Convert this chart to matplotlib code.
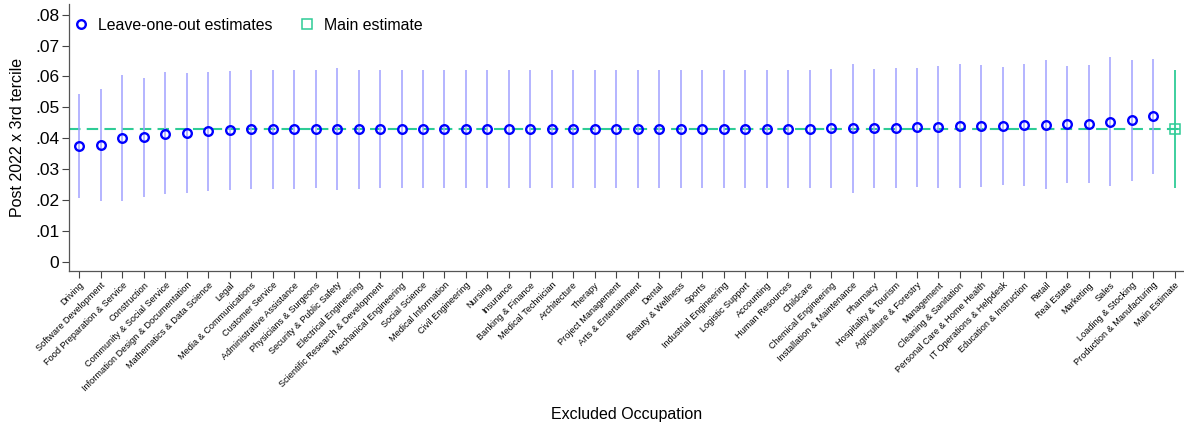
#!/usr/bin/env python3
"""
Leave-one-out robustness chart: coefficient on Post 2022 x 3rd tercile
when each occupation is dropped in turn.
"""
import matplotlib
matplotlib.use('Agg')
import matplotlib.pyplot as plt
from matplotlib.ticker import FuncFormatter

plt.rcParams['font.family'] = ['Liberation Sans', 'DejaVu Sans']

# ── Data ────────────────────────────────────────────────────────────────────
occupations = [
    'Driving', 'Software Development', 'Food Preparation & Service', 'Construction',
    'Community & Social Service', 'Information Design & Documentation',
    'Mathematics & Data Science', 'Legal', 'Media & Communications',
    'Customer Service', 'Administrative Assistance', 'Physicians & Surgeons',
    'Security & Public Safety', 'Electrical Engineering',
    'Scientific Research & Development', 'Mechanical Engineering', 'Social Science',
    'Medical Information', 'Civil Engineering', 'Nursing', 'Insurance',
    'Banking & Finance', 'Medical Technician', 'Architecture', 'Therapy',
    'Project Management', 'Arts & Entertainment', 'Dental', 'Beauty & Wellness',
    'Sports', 'Industrial Engineering', 'Logistic Support', 'Accounting',
    'Human Resources', 'Childcare', 'Chemical Engineering',
    'Installation & Maintenance', 'Pharmacy', 'Hospitality & Tourism',
    'Agriculture & Forestry', 'Management', 'Cleaning & Sanitation',
    'Personal Care & Home Health', 'IT Operations & Helpdesk',
    'Education & Instruction', 'Retail', 'Real Estate', 'Marketing', 'Sales',
    'Loading & Stocking', 'Production & Manufacturing',
]

estimates = [
    .0375, .0379, .0402, .0403, .0415, .0417, .0423, .0427, .0430, .0430,
    .0430, .0430, .0430, .0430, .0430, .0430, .0430, .0430, .0430, .0430,
    .0430, .0430, .0430, .0430, .0430, .0430, .0430, .0430, .0430, .0430,
    .0430, .0430, .0430, .0431, .0431, .0432, .0432, .0432, .0434, .0436,
    .0438, .0440, .0440, .0440, .0443, .0444, .0446, .0446, .0454, .0459,
    .0471,
]
ci_high = [
    .0543, .0558, .0605, .0595, .0614, .0612, .0616, .0619, .0621, .0620,
    .0620, .0620, .0628, .0620, .0620, .0621, .0621, .0621, .0621, .0621,
    .0621, .0621, .0621, .0621, .0621, .0621, .0621, .0621, .0621, .0621,
    .0621, .0621, .0621, .0621, .0622, .0623, .0641, .0624, .0628, .0626,
    .0634, .0640, .0636, .0632, .0641, .0652, .0633, .0636, .0662, .0652,
    .0658,
]
ci_low = [
    .0208, .0198, .0197, .0209, .0219, .0224, .0230, .0234, .0237, .0237,
    .0237, .0238, .0233, .0237, .0238, .0238, .0238, .0238, .0238, .0238,
    .0238, .0238, .0238, .0238, .0238, .0238, .0238, .0238, .0238, .0238,
    .0238, .0238, .0238, .0240, .0240, .0240, .0224, .0240, .0238, .0242,
    .0240, .0239, .0243, .0248, .0246, .0236, .0255, .0257, .0245, .0263,
    .0284,
]

main_label = 'Main Estimate'
main_est  = .0431
main_high = .0620
main_low  = .0240

y_ticks = [0, .01, .02, .03, .04, .05, .06, .07, .08]

# ── Plot ────────────────────────────────────────────────────────────────────
BLUE   = '#0000ff'
LBLUE  = '#a0a0ff'
GREEN  = '#2ecc96'

fig = plt.figure(figsize=(11.84, 4.28), dpi=100)
ax = fig.add_axes([0.0583, 0.367, 0.9417, 0.624])

xs = list(range(len(occupations)))
lo_err = [e - l for e, l in zip(estimates, ci_low)]
hi_err = [h - e for e, h in zip(estimates, ci_high)]

ax.axhline(main_est, color=GREEN, lw=1.5, ls=(0, (5.5, 3)), zorder=1)

ax.errorbar(xs, estimates, yerr=[lo_err, hi_err], fmt='none',
            ecolor=LBLUE, elinewidth=1.1, capsize=0, zorder=2)
ax.plot(xs, estimates, 'o', ms=6.2, mew=1.7, mfc='none', mec=BLUE,
        ls='none', zorder=3, label='Leave-one-out estimates')

mx = len(occupations)
ax.errorbar([mx], [main_est], yerr=[[main_est - main_low], [main_high - main_est]],
            fmt='none', ecolor=GREEN, elinewidth=1.3, capsize=0, zorder=2)
ax.plot([mx], [main_est], 's', ms=7, mew=1.1, mfc='none', mec=GREEN,
        ls='none', zorder=3, label='Main estimate')
# cross inside the square, as in the original marker over the bar
ax.plot([mx], [main_est], '_', ms=7, mew=1.1, color=GREEN, zorder=3)

ax.set_xlim(-0.48, mx + 0.43)
ax.set_ylim(-0.0029, 0.0835)

ax.set_xticks(xs + [mx])
ax.set_xticklabels(occupations + [main_label], rotation=45, ha='right',
                   rotation_mode='anchor', fontsize=6.6)
ax.set_yticks(y_ticks)
ax.yaxis.set_major_formatter(FuncFormatter(
    lambda v, p: '0' if abs(v) < 1e-9 else ('%.2f' % v).lstrip('0')))
ax.tick_params(axis='y', labelsize=12.5, length=5, width=0.8, color='#444444', pad=2)
ax.tick_params(axis='x', length=5, width=0.8, color='#444444', pad=2)

for s in ['top', 'right']:
    ax.spines[s].set_visible(False)
for s in ['left', 'bottom']:
    ax.spines[s].set_color('#555555')
    ax.spines[s].set_linewidth(0.9)

ax.set_ylabel('Post 2022 x 3rd tercile', fontsize=11.5, labelpad=7)
ax.set_xlabel('Excluded Occupation', fontsize=11.5, labelpad=10)

ax.legend(loc='center left', ncol=2, frameon=False, fontsize=11.4,
          handlelength=1.0, handletextpad=0.58, columnspacing=1.7,
          bbox_to_anchor=(0.0036, 0.919), borderaxespad=0, borderpad=0)

fig.savefig('out.png', dpi=100)
plt.close(fig)
print('[+] Saved: out.png')
